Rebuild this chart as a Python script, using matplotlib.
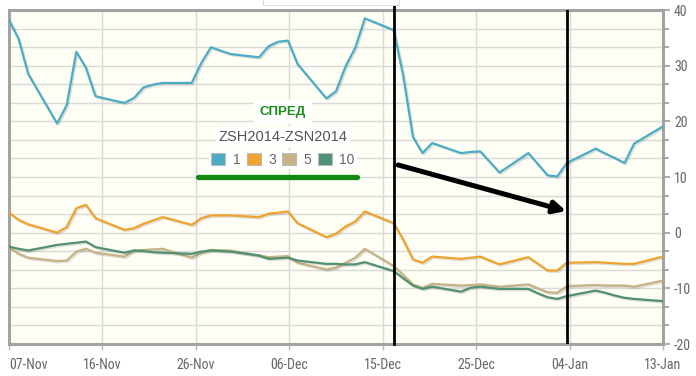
import matplotlib
matplotlib.use('Agg')
import matplotlib.pyplot as plt
import matplotlib.dates as mdates
import matplotlib.patheffects as pe
from matplotlib import font_manager as fm
from matplotlib.patches import Patch
from matplotlib.ticker import MultipleLocator, FixedLocator
import numpy as np
import pandas as pd
import os

# ---------------- data ----------------
dates = pd.to_datetime([
    '2013-11-06', '2013-11-07', '2013-11-08', '2013-11-11', '2013-11-12', '2013-11-13',
    '2013-11-14', '2013-11-15', '2013-11-18', '2013-11-19', '2013-11-20', '2013-11-21',
    '2013-11-22', '2013-11-25', '2013-11-26', '2013-11-27', '2013-11-29', '2013-12-02',
    '2013-12-03', '2013-12-04', '2013-12-05', '2013-12-06', '2013-12-09', '2013-12-10',
    '2013-12-11', '2013-12-12', '2013-12-13', '2013-12-16', '2013-12-17', '2013-12-18',
    '2013-12-19', '2013-12-20', '2013-12-23', '2013-12-24', '2013-12-25', '2013-12-26',
    '2013-12-27', '2013-12-30', '2013-12-31', '2014-01-01', '2014-01-02', '2014-01-03',
    '2014-01-06', '2014-01-07', '2014-01-08', '2014-01-09', '2014-01-10', '2014-01-13'])

spread_1 = [38.2, 34.8, 28.5, 19.6, 22.9, 32.5, 29.6, 24.5, 23.3, 24.2, 26.1, 26.6,
            26.9, 26.9, 30.5, 33.3, 32.1, 31.5, 33.5, 34.3, 34.5, 30.3, 24.1, 25.4,
            29.9, 33.2, 38.5, 36.4, 28.1, 17.2, 14.3, 16.1, 14.3, 14.5, 14.6, 12.7,
            10.8, 14.3, 12.3, 10.3, 10.1, 12.5, 15.1, 14.2, 13.4, 12.5, 16.0, 19.1]
spread_3 = [3.6, 2.3, 1.5, 0.0, 1.0, 4.4, 5.0, 2.6, 0.5, 0.8, 1.6, 2.2,
            2.8, 1.4, 2.6, 3.1, 3.1, 2.8, 3.4, 3.6, 3.8, 1.7, -0.8, -0.2,
            1.1, 2.0, 3.8, 1.7, -1.3, -4.8, -5.4, -4.3, -4.7, -4.5, -4.3, -5.0,
            -5.7, -4.4, -5.6, -6.8, -6.8, -5.4, -5.3, -5.4, -5.5, -5.6, -5.6, -4.3]
spread_5 = [-2.6, -3.8, -4.5, -5.1, -5.0, -3.4, -2.9, -3.6, -4.3, -3.2, -3.1, -3.0,
            -2.9, -4.5, -3.6, -3.1, -3.2, -4.1, -4.4, -4.3, -4.2, -5.4, -6.6, -6.3,
            -5.4, -4.5, -2.9, -6.0, -7.6, -9.3, -9.9, -9.2, -9.5, -9.4, -9.3, -9.5,
            -9.7, -9.3, -10.0, -10.7, -10.8, -9.6, -9.4, -9.5, -9.5, -9.5, -9.7, -8.6]
spread_10 = [-2.5, -2.9, -3.2, -2.2, -2.0, -1.8, -1.6, -2.6, -3.6, -3.2, -3.3, -3.5,
             -3.6, -3.8, -3.4, -3.2, -3.4, -4.1, -4.7, -4.6, -4.5, -5.0, -5.6, -5.6,
             -5.7, -5.7, -5.3, -6.9, -8.2, -9.5, -10.1, -9.7, -10.6, -9.9, -9.7, -9.9,
             -10.1, -10.1, -10.9, -11.6, -11.9, -11.4, -10.4, -10.8, -11.3, -11.7, -11.9, -12.3]

series_names = ['1', '3', '5', '10']
x_tick_labels = ['07-Nov', '16-Nov', '26-Nov', '06-Dec', '15-Dec', '25-Dec', '04-Jan', '13-Jan']
y_ticks = [-20, -10, 0, 10, 20, 30, 40]
marker_dates = pd.to_datetime(['2013-12-16', '2014-01-03'])
title = 'СПРЕД'
subtitle = 'ZSH2014-ZSN2014'

# ---------------- fonts ----------------
def find_narrow():
    prefs = ['liberationsansnarrow-regular', 'arialn', 'robotocondensed-regular',
             'dejavusanscondensed.ttf', 'opensans_condensed', 'opensanscondensed']
    files = fm.findSystemFonts() + [f.fname for f in fm.fontManager.ttflist]
    low = {os.path.basename(f).lower(): f for f in files}
    for p in prefs:
        for k, f in low.items():
            if k.startswith(p.replace('.ttf', '')) and ('bold' not in k and 'italic' not in k
                                                           and 'oblique' not in k):
                return fm.FontProperties(fname=f), True
    return fm.FontProperties(family=['Liberation Sans', 'DejaVu Sans']), False

narrow_fp, is_narrow = find_narrow()
tick_size = 10 if is_narrow else 9
regular = ['Liberation Sans', 'DejaVu Sans']

# ---------------- style ----------------
colors = ['#4bacc6', '#eea32f', '#c6b383', '#4f9172']
frame_col = '#a3a3a3'
grid_col = '#d9d9d9'
text_col = '#666666'

fig = plt.figure(figsize=(6.96, 3.76), dpi=100)
fig.patch.set_facecolor('white')
ax = fig.add_axes([9 / 696, 32 / 376, 654 / 696, 334 / 376])
ax.set_facecolor('#fffef4')

xnum = mdates.date2num(dates)
for vals, c in zip([spread_1, spread_3, spread_5, spread_10], colors):
    ax.plot(xnum, vals, color=c, lw=1.6, zorder=3, solid_joinstyle='round',
            path_effects=[pe.SimpleLineShadow(offset=(1, -1), alpha=0.12, rho=0.6), pe.Normal()])

ax.set_xlim(xnum[0], xnum[-1])
ax.set_ylim(-20, 40)

# x axis
ax.xaxis.set_major_locator(FixedLocator(np.linspace(xnum[0], xnum[-1], len(x_tick_labels))))
ax.set_xticklabels(x_tick_labels)
ax.tick_params(axis='x', length=4, width=1, color='#b5b5b5', pad=6)
lbls = ax.get_xticklabels()
for t in lbls:
    t.set_fontproperties(narrow_fp)
    t.set_fontsize(tick_size)
    t.set_color(text_col)
lbls[0].set_horizontalalignment('left')

# y axis on the right
ax.yaxis.tick_right()
ax.yaxis.set_major_locator(FixedLocator(y_ticks))
ax.yaxis.set_minor_locator(MultipleLocator(10 / 3))
ax.set_yticklabels([str(v) for v in y_ticks])
for t in ax.get_yticklabels():
    t.set_fontproperties(narrow_fp)
    t.set_fontsize(tick_size)
    t.set_color(text_col)
ax.tick_params(axis='y', which='both', length=5, width=1.3, color=frame_col, pad=3)
ax.tick_params(axis='y', which='minor', length=4)

ax.grid(axis='y', which='both', color=grid_col, lw=1, zorder=0)
ax.grid(axis='x', which='major', color=grid_col, lw=1, zorder=0)
ax.set_axisbelow(True)

for s in ax.spines.values():
    s.set_color(frame_col)
    s.set_linewidth(2.2)

# vertical marker lines
ax.axvline(mdates.date2num(marker_dates[0]), ymin=0, ymax=1.015, color='black', lw=2.0,
           zorder=5, clip_on=False)
ax.axvline(mdates.date2num(marker_dates[1]), ymin=0, ymax=1.0, color='black', lw=2.0, zorder=5)

# arrow annotation
ax.annotate('', xy=(0.852, 0.398), xytext=(0.595, 0.536), xycoords='axes fraction',
            arrowprops=dict(arrowstyle='-|>', lw=3.6, color='black', mutation_scale=18,
                            shrinkA=0, shrinkB=0), zorder=6)

# title / subtitle
cx = 283 / 696
fig.text(cx, 1 - 112 / 376, title, ha='center', va='center', family=regular, fontsize=9.5,
         fontweight='bold', color='#1c8c1c',
         bbox=dict(facecolor='white', edgecolor='none', pad=4), zorder=10)
fig.text(cx, 1 - 137 / 376, subtitle, ha='center', va='center', family=regular, fontsize=10.5,
         color='#555555', bbox=dict(facecolor='white', edgecolor='none', pad=2), zorder=10)

handles = [Patch(facecolor=c, edgecolor='#bbbbbb', lw=0.8) for c in colors]
leg = fig.legend(handles, series_names, loc='center', bbox_to_anchor=(cx, 1 - 160 / 376), ncol=4,
                 frameon=True, framealpha=1, facecolor='white', edgecolor='none',
                 handlelength=1.0, handleheight=1.0, handletextpad=0.55, columnspacing=0.45,
                 borderpad=0.15, prop={'family': regular, 'size': 10})
for t in leg.get_texts():
    t.set_color(text_col)

# green underline
fig.add_artist(plt.Line2D([198 / 696, 357 / 696], [1 - 177 / 376, 1 - 177 / 376],
                          color='#128a12', lw=3.8, solid_capstyle='round', zorder=10))

# small box at top (remnant tooltip)
fig.add_artist(plt.Rectangle((263 / 696, 1 - 5 / 376), 136 / 696, 8 / 376, facecolor='white',
                             edgecolor='#dddddd', lw=0.8, zorder=1))

fig.savefig('out.png', dpi=100, facecolor='white')
